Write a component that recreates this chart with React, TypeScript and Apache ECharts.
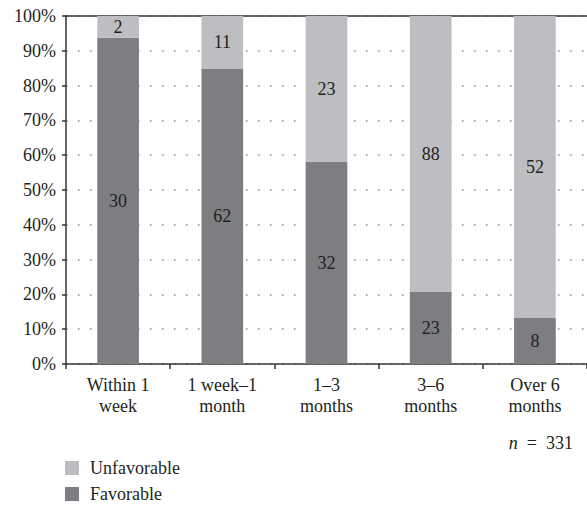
import React, { useEffect, useRef } from "react";
import * as echarts from "echarts";

const categories = ["Within 1\nweek", "1 week–1\nmonth", "1–3\nmonths", "3–6\nmonths", "Over 6\nmonths"];
const favorable = [30, 62, 32, 23, 8];
const unfavorable = [2, 11, 23, 88, 52];
const yTicks = [0, 10, 20, 30, 40, 50, 60, 70, 80, 90, 100];
const totalN = 331;

const FONT = "'Liberation Serif', 'DejaVu Serif', serif";
const TXT = "#231f20";
const FS = 18;

export default function App() {
  const ref = useRef<HTMLDivElement>(null);
  useEffect(() => {
    if (!ref.current) return;
    const chart = echarts.init(ref.current, undefined, { renderer: "svg" });
    const totals = favorable.map((f, i) => f + unfavorable[i]);
    const favPct = favorable.map((f, i) => (f / totals[i]) * 100);
    const unfPct = unfavorable.map((u, i) => (u / totals[i]) * 100);
    const labelStyle = {
      show: true,
      position: "inside" as const,
      color: TXT,
      fontFamily: FONT,
      fontSize: FS,
    };
    chart.setOption({
      animation: false,
      textStyle: { fontFamily: FONT },
      grid: { left: 66, top: 16, width: 523, height: 348, containLabel: false },
      legend: {
        orient: "vertical",
        left: 60,
        top: 454,
        height: 52,
        itemWidth: 14,
        itemHeight: 14,
        itemGap: 8,
        icon: "rect",
        data: ["Unfavorable", "Favorable"],
        textStyle: { fontFamily: FONT, fontSize: FS, lineHeight: 18, color: TXT, padding: [0, 0, 0, 6] },
      },
      xAxis: [
        {
          type: "category",
          data: categories,
          axisLine: { show: true, lineStyle: { color: "#333", width: 1.5 } },
          axisTick: { show: true, length: 5, lineStyle: { color: "#333", width: 1.5 } },
          axisLabel: { color: TXT, fontFamily: FONT, fontSize: FS, lineHeight: 21, margin: 10 },
        },
        {
          type: "category",
          data: categories,
          position: "top",
          axisLine: { show: true, onZero: false, lineStyle: { color: "#333", width: 1.5 } },
          axisTick: { show: false },
          axisLabel: { show: false },
        },
      ],
      yAxis: {
        type: "value",
        min: yTicks[0],
        max: yTicks[yTicks.length - 1],
        interval: 10,
        axisLine: { show: true, lineStyle: { color: "#333", width: 1.5 } },
        axisTick: { show: true, length: 4, lineStyle: { color: "#333", width: 1.5 } },
        axisLabel: {
          color: TXT,
          fontFamily: FONT,
          fontSize: FS,
          margin: 10,
          formatter: (v: number) => `${v}%`,
        },
        splitLine: {
          show: true,
          lineStyle: { color: "#8a8a8a", width: 1.5, type: [1.5, 10.5] },
        },
      },
      series: [
        {
          name: "Favorable",
          type: "bar",
          stack: "total",
          barWidth: "40%",
          data: favPct,
          itemStyle: { color: "#7d7e82" },
          label: { ...labelStyle, formatter: (p: any) => String(favorable[p.dataIndex]) },
        },
        {
          name: "Unfavorable",
          type: "bar",
          stack: "total",
          barWidth: "40%",
          data: unfPct,
          itemStyle: { color: "#bdbec2" },
          label: { ...labelStyle, formatter: (p: any) => String(unfavorable[p.dataIndex]) },
        },
      ],
      graphic: [
        {
          type: "text",
          right: 14,
          top: 434,
          style: {
            text: `{i|n}{r|  =  ${totalN}}`,
            rich: {
              i: { fontFamily: FONT, fontSize: FS, fontStyle: "italic", fill: TXT },
              r: { fontFamily: FONT, fontSize: FS, fill: TXT },
            },
          },
        },
      ],
    });
    return () => chart.dispose();
  }, []);
  return (
    <div
      ref={ref}
      style={{ position: "fixed", left: 0, top: 0, width: 587, height: 508, background: "#fff" }}
    />
  );
}
